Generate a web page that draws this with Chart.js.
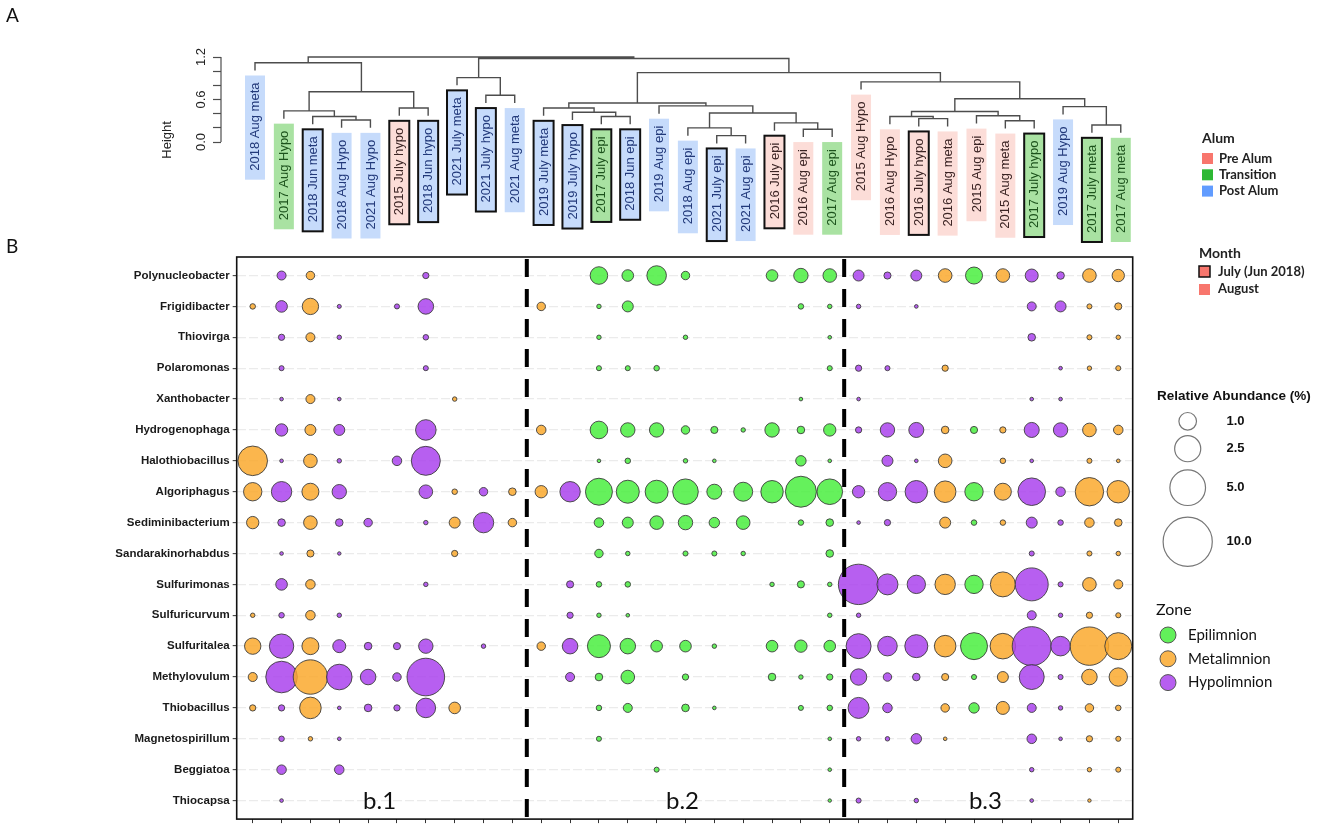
<!DOCTYPE html>
<html><head><meta charset="utf-8">
<script src="https://cdn.jsdelivr.net/npm/chart.js@4.4.1/dist/chart.umd.min.js"></script>
<style>
html,body{margin:0;padding:0;background:#fff;}
#wrap{position:relative;width:1325px;height:829px;overflow:hidden;background:#fff;}
#wrap canvas{position:absolute;left:0;top:0;}
</style></head><body>
<div id="wrap"><canvas id="dendro" width="1325" height="829"></canvas><canvas id="bubble" width="1325" height="829"></canvas></div>
<script>
// ---------- DATA ----------
const samples = ["2018 Aug meta","2017 Aug Hypo","2018 Jun meta","2018 Aug Hypo","2021 Aug Hypo","2015 July hypo","2018 Jun hypo","2021 July meta","2021 July hypo","2021 Aug meta","2019 July meta","2019 July hypo","2017 July epi","2018 Jun epi","2019 Aug epi","2018 Aug epi","2021 July epi","2021 Aug epi","2016 July epi","2016 Aug epi","2017 Aug epi","2015 Aug Hypo","2016 Aug Hypo","2016 July hypo","2016 Aug meta","2015 Aug epi","2015 Aug meta","2017 July hypo","2019 Aug Hypo","2017 July meta","2017 Aug meta"];
const sampleAlum = ["Post","Transition","Post","Post","Post","Pre","Post","Post","Post","Post","Post","Post","Transition","Post","Post","Post","Post","Post","Pre","Pre","Transition","Pre","Pre","Pre","Pre","Pre","Pre","Transition","Post","Transition","Transition"];
const sampleMonth = ["August","August","July","August","August","July","July","July","July","August","July","July","July","July","August","August","July","August","July","August","August","August","August","July","August","August","August","July","August","July","August"];
const sampleZone = ["Metalimnion","Hypolimnion","Metalimnion","Hypolimnion","Hypolimnion","Hypolimnion","Hypolimnion","Metalimnion","Hypolimnion","Metalimnion","Metalimnion","Hypolimnion","Epilimnion","Epilimnion","Epilimnion","Epilimnion","Epilimnion","Epilimnion","Epilimnion","Epilimnion","Epilimnion","Hypolimnion","Hypolimnion","Hypolimnion","Metalimnion","Epilimnion","Metalimnion","Hypolimnion","Hypolimnion","Metalimnion","Metalimnion"];

// hierarchical clustering (R hclust style: negative = leaf position, positive = earlier merge)
const mergeLeft   = [-4,-3,-2,-6,3,-1,-9,-8,-13,-12,-11,-17,-16,-20,-19,13,-15,11,-24,-23,-27,-26,20,-30,-29,23,-22,18,8,6];
const mergeRight  = [-5,1,2,-7,4,5,-10,7,-14,9,10,-18,12,-21,14,15,16,17,-25,19,-28,21,22,-31,24,25,26,27,28,29];
const mergeHeight = [0.31,0.36,0.44,0.48,0.71,1.12,0.66,0.91,0.36,0.42,0.48,0.09,0.20,0.18,0.27,0.41,0.51,0.55,0.33,0.36,0.30,0.37,0.43,0.24,0.50,0.61,0.85,0.98,1.18,1.20];
const leafHang = 0.11;
const heightTicks = [0,0.2,0.4,0.6,0.8,1.0,1.2];
const heightLabels = [0,0.6,1.2];

const genera = ["Polynucleobacter","Frigidibacter","Thiovirga","Polaromonas","Xanthobacter","Hydrogenophaga","Halothiobacillus","Algoriphagus","Sediminibacterium","Sandarakinorhabdus","Sulfurimonas","Sulfuricurvum","Sulfuritalea","Methylovulum","Thiobacillus","Magnetospirillum","Beggiatoa","Thiocapsa"];
// relative abundance (%) per sample, in dendrogram order
const polynucleobacter   = [0,0.17,0.14,0,0,0,0.05,0,0,0, 0,0,1.00,0.35,1.29,0.14,0,0,0.35,0.61,0.53, 0.30,0.08,0.30,0.53,0.92,0.53,0.47,0.10,0.53,0.41];
const frigidibacter      = [0.03,0.35,0.84,0.005,0,0.02,0.74,0,0,0, 0.14,0,0.01,0.30,0,0,0,0,0,0.03,0.01, 0.01,0,0.002,0,0,0,0.17,0.30,0.02,0.08];
const thiovirga          = [0,0.05,0.17,0.01,0,0,0.03,0,0,0, 0,0,0.01,0,0,0.01,0,0,0,0,0.002, 0,0,0,0,0,0,0.10,0,0.02,0.01];
const polaromonas        = [0,0.02,0,0,0,0,0.02,0,0,0, 0,0,0.02,0.02,0.03,0,0,0,0,0,0.02, 0.05,0.02,0,0.05,0,0,0,0.002,0.01,0.02];
const xanthobacter       = [0,0.002,0.17,0.002,0,0,0,0.01,0,0, 0,0,0,0,0,0,0,0,0,0.002,0, 0.002,0,0,0,0,0,0.002,0.002,0,0];
const hydrogenophaga     = [0,0.41,0.30,0.30,0,0,1.45,0,0,0, 0.20,0,1.00,0.61,0.61,0.14,0.08,0.01,0.61,0.10,0.41, 0.05,0.61,0.68,0.10,0.08,0.05,0.68,0.61,0.53,0.20];
const halothiobacillus   = [3.32,0.002,0.53,0.01,0,0.20,3.17,0,0,0, 0,0,0.002,0.03,0,0.01,0.002,0,0,0.26,0.002, 0,0.30,0.002,0.53,0,0.03,0.002,0,0.02,0.002];
const algoriphagus       = [1.11,1.42,0.92,0.61,0,0,0.53,0.03,0.14,0.10, 0.41,1.42,2.70,1.88,1.88,2.40,0.68,1.20,1.77,3.68,2.40, 0.41,1.11,1.77,1.62,1.11,0.92,2.84,0.20,3.03,1.77];
const sediminibacterium  = [0.41,0.10,0.53,0.10,0.14,0,0.01,0.30,1.42,0.14, 0,0,0.20,0.30,0.53,0.61,0.26,0.53,0,0.03,0.10, 0.002,0.05,0,0.30,0.03,0.03,0.30,0.03,0.20,0.10];
const sandarakinorhabdus = [0,0.002,0.08,0.001,0,0,0,0.05,0,0, 0,0,0.14,0.01,0,0.02,0.02,0.01,0,0,0.10, 0,0,0,0,0,0,0.02,0,0.02,0.01];
const sulfurimonas       = [0,0.35,0.20,0,0,0,0.01,0,0,0, 0,0.08,0.03,0.03,0,0,0,0,0.01,0.08,0.01, 6.56,1.52,1.11,1.42,1.11,2.27,4.22,0.02,0.53,0.17];
const sulfuricurvum      = [0.01,0.03,0.20,0.01,0,0,0,0,0,0, 0,0.05,0.01,0.002,0,0,0,0,0,0,0.01, 0.01,0,0,0,0,0,0.17,0.01,0.05,0.02];
const sulfuritalea       = [0.84,2.15,0.92,0.47,0.10,0.08,0.61,0,0.01,0, 0.14,0.74,1.88,0.74,0.35,0.35,0.01,0,0.35,0.41,0.35, 2.27,1.29,1.88,1.62,2.70,2.40,6.08,1.29,5.88,2.70];
const methylovulum       = [0.17,3.84,4.63,2.40,0.74,0.14,5.62,0,0,0, 0,0.17,0.10,0.53,0,0.05,0,0,0.10,0.01,0.05, 0.84,0.14,0.10,0.08,0.02,0.30,2.27,0.02,0.74,1.11];
const thiobacillus       = [0.05,0.05,1.62,0.002,0.10,0.05,1.29,0.35,0,0, 0,0,0.03,0.17,0,0.10,0.002,0,0,0.02,0.03, 1.52,0.20,0,0.14,0.26,0.47,0.17,0.01,0.14,0.03];
const magnetospirillum   = [0,0.03,0.01,0.002,0,0,0,0,0,0, 0,0,0.02,0,0,0,0,0,0,0,0.002, 0.01,0.01,0.26,0.002,0,0,0.20,0.002,0.05,0.02];
const beggiatoa          = [0,0.20,0,0.20,0,0,0,0,0,0, 0,0,0,0,0.02,0,0,0,0,0,0.002, 0,0,0,0,0,0,0.01,0,0.01,0.02];
const thiocapsa          = [0,0.002,0,0,0,0,0,0,0,0, 0,0,0,0,0,0,0,0,0,0,0.001, 0.02,0,0.01,0,0,0,0.002,0,0.001,0];
const abundanceRows = [polynucleobacter,frigidibacter,thiovirga,polaromonas,xanthobacter,hydrogenophaga,halothiobacillus,algoriphagus,sediminibacterium,sandarakinorhabdus,sulfurimonas,sulfuricurvum,sulfuritalea,methylovulum,thiobacillus,magnetospirillum,beggiatoa,thiocapsa];

const groupNames  = ["b.1","b.2","b.3"];
const groupFirst  = [0,10,21];
const groupLast   = [9,20,30];
const sizeLegendValues = [1.0,2.5,5.0,10.0];
const alumLevels = ["Pre","Transition","Post"];
const alumNames  = ["Pre Alum","Transition","Post Alum"];
const zoneLevels = ["Epilimnion","Metalimnion","Hypolimnion"];

// ---------- STYLE ----------
const zoneFill  = {Epilimnion:'rgba(74,238,63,0.85)', Metalimnion:'rgba(250,169,46,0.85)', Hypolimnion:'rgba(170,67,237,0.85)'};
const zoneSolid = {Epilimnion:'#62f05a', Metalimnion:'#fbb64d', Hypolimnion:'#b75ff0'};
const alumSwatch = {Pre:'#f8766d', Transition:'#2db834', Post:'#619cff'};
const alumBox = {Pre:'#fcddd8', Transition:'#a9e2a2', Post:'#c6dbfb'};
const alumText = {Pre:'#3b2424', Transition:'#1c521c', Post:'#22397a'};
function sizeOf(v){ return 1.5 + 7.3*Math.sqrt(v); }
const SANS = '"Liberation Sans", Arial, sans-serif';
const LATO = 'Lato, "Open Sans", sans-serif';

// ---------- DENDROGRAM ----------
const nodeX = [], leafEndH = new Array(samples.length).fill(0);
mergeLeft.forEach((a,i)=>{
  [a, mergeRight[i]].forEach(c=>{ if(c<0) leafEndH[-c-1] = mergeHeight[i]-leafHang; });
});
function cx(c){ return c<0 ? (-c-1) : nodeX[c-1]; }
function cy(c){ return c<0 ? leafEndH[-c-1] : mergeHeight[c-1]; }
const dendroPoints = [];
mergeLeft.forEach((a,i)=>{
  const b = mergeRight[i], h = mergeHeight[i];
  nodeX[i] = (cx(a)+cx(b))/2;
  dendroPoints.push({x:cx(a),y:cy(a)},{x:cx(a),y:h},{x:cx(b),y:h},{x:cx(b),y:cy(b)},{x:cx(b),y:null});
});

const dendroPlugin = {
  id:'dendroExtras',
  afterDatasetsDraw(chart){
    const ctx = chart.ctx, xs = chart.scales.x, ys = chart.scales.y;
    ctx.save();
    ctx.strokeStyle='#4d4d4d'; ctx.lineWidth=1.2;
    ctx.beginPath(); ctx.moveTo(ys.right, ys.getPixelForValue(heightTicks[0])); ctx.lineTo(ys.right, ys.getPixelForValue(heightTicks[heightTicks.length-1])); ctx.stroke();
    ctx.font = '13px '+SANS;
    samples.forEach((s,k)=>{
      const px = xs.getPixelForValue(k);
      const le = ys.getPixelForValue(leafEndH[k]);
      const tw = ctx.measureText(s).width;
      const top = le+5, tEnd = top+7, bot = tEnd+tw+9;
      const al = sampleAlum[k];
      ctx.fillStyle = alumBox[al];
      ctx.fillRect(px-10, top, 20, bot-top);
      if(sampleMonth[k]==='July'){ ctx.strokeStyle='#111'; ctx.lineWidth=2; ctx.strokeRect(px-10, top, 20, bot-top); }
      ctx.save(); ctx.translate(px+0.5, tEnd+tw); ctx.rotate(-Math.PI/2);
      ctx.fillStyle = alumText[al]; ctx.textAlign='left'; ctx.textBaseline='middle';
      ctx.fillText(s,0,0); ctx.restore();
    });
    ctx.fillStyle='#111'; ctx.font='19px '+LATO; ctx.textAlign='left'; ctx.textBaseline='middle';
    ctx.fillText('A',6,16); ctx.fillText('B',6,247);
    ctx.restore();
  }
};

new Chart(document.getElementById('dendro'),{
  type:'line',
  data:{datasets:[{data:dendroPoints, borderColor:'#4d4d4d', borderWidth:1.4, pointRadius:0, spanGaps:false, tension:0, fill:false, clip:false}]},
  options:{
    responsive:false, animation:false, devicePixelRatio:1, events:[],
    layout:{autoPadding:false, padding:{left:160, right:189.8, top:53.5, bottom:602.7}},
    plugins:{legend:{display:false}, tooltip:{enabled:false}},
    scales:{
      x:{type:'linear', min:-1.178, max:30.5, display:false},
      y:{type:'linear', min:-1.19, max:1.25,
        afterFit:s=>{s.width=61;},
        afterBuildTicks:s=>{s.ticks=heightTicks.map(v=>({value:v}));},
        border:{display:false},
        grid:{drawOnChartArea:false, drawTicks:true, tickLength:8, tickColor:'#4d4d4d', tickWidth:1.2},
        ticks:{autoSkip:false, minRotation:90, maxRotation:90, crossAlign:'center', padding:3, color:'#222', font:{family:SANS, size:13},
          callback:v=> heightLabels.some(t=>Math.abs(t-v)<1e-6) ? Number(v).toFixed(1) : ''},
        title:{display:true, text:'Height', color:'#222', font:{family:SANS, size:13}, padding:{top:0,bottom:0}}
      }
    }
  },
  plugins:[dendroPlugin]
});

// ---------- BUBBLE PLOT ----------
const bubblePoints = [];
samples.forEach((s,c)=>{
  abundanceRows.forEach((row,r)=>{
    const v=row[c];
    if(v>0) bubblePoints.push({x:c, y:r, r:sizeOf(v), zone:sampleZone[c]});
  });
});

const bubblePlugin = {
  id:'bubbleExtras',
  afterDatasetsDraw(chart){
    const ctx=chart.ctx, a=chart.chartArea, xs=chart.scales.x;
    ctx.save();
    ctx.strokeStyle='#000'; ctx.lineWidth=4; ctx.setLineDash([18,12]);
    for(let g=1; g<groupFirst.length; g++){
      const px = xs.getPixelForValue((groupLast[g-1]+groupFirst[g])/2);
      ctx.beginPath(); ctx.moveTo(px,a.top+2); ctx.lineTo(px,a.bottom); ctx.stroke();
    }
    ctx.setLineDash([]);
    ctx.strokeStyle='#111'; ctx.lineWidth=1.6;
    ctx.strokeRect(a.left, a.top, a.right-a.left, a.bottom-a.top);
    ctx.fillStyle='#111'; ctx.font='24px '+LATO; ctx.textAlign='center'; ctx.textBaseline='middle';
    groupNames.forEach((n,g)=>{ ctx.fillText(n, xs.getPixelForValue((groupFirst[g]+groupLast[g])/2)-3, 801); });
    ctx.restore();
  },
  afterDraw(chart){
    const ctx=chart.ctx;
    ctx.save();
    ctx.textAlign='left'; ctx.textBaseline='middle';
    ctx.fillStyle='#222'; ctx.font='bold 14px '+LATO; ctx.fillText('Alum',1202,138);
    alumLevels.forEach((l,i)=>{
      const y=158.5+i*16.3;
      ctx.fillStyle=alumSwatch[l]; ctx.fillRect(1202,y-5.5,11,11);
      ctx.fillStyle='#222'; ctx.font='bold 13px '+LATO; ctx.fillText(alumNames[i],1219,y);
    });
    ctx.fillStyle='#222'; ctx.font='bold 14px '+LATO; ctx.fillText('Month',1199,253);
    ctx.fillStyle=alumSwatch.Pre; ctx.fillRect(1199,266,11,11);
    ctx.strokeStyle='#111'; ctx.lineWidth=1.5; ctx.strokeRect(1199,266,11,11);
    ctx.fillRect(1199,284,11,11);
    ctx.fillStyle='#222'; ctx.font='bold 13px '+LATO;
    ctx.fillText('July (Jun 2018)',1218,271.5); ctx.fillText('August',1218,289);
    ctx.fillStyle='#111'; ctx.font='bold 13.5px '+SANS; ctx.fillText('Relative Abundance (%)',1157,396);
    const sizeY=[421.3,448.7,487.7,541.7];
    sizeLegendValues.forEach((v,i)=>{
      ctx.beginPath(); ctx.arc(1187.7,sizeY[i],sizeOf(v),0,Math.PI*2);
      ctx.strokeStyle='#777'; ctx.lineWidth=1.2; ctx.stroke();
      ctx.fillStyle='#111'; ctx.font='bold 13px '+SANS; ctx.fillText(v.toFixed(1),1226.5,sizeY[i]);
    });
    ctx.fillStyle='#111'; ctx.font='16px '+LATO; ctx.fillText('Zone',1156,610);
    zoneLevels.forEach((z,i)=>{
      const y=635+i*23.8;
      ctx.beginPath(); ctx.arc(1168,y,8,0,Math.PI*2);
      ctx.fillStyle=zoneSolid[z]; ctx.fill(); ctx.strokeStyle='#555'; ctx.lineWidth=1; ctx.stroke();
      ctx.fillStyle='#111'; ctx.font='15px '+LATO; ctx.fillText(z,1188,y);
    });
    ctx.restore();
  }
};

new Chart(document.getElementById('bubble'),{
  type:'bubble',
  data:{datasets:[{data:bubblePoints,
    backgroundColor:ctx=> ctx.raw ? zoneFill[ctx.raw.zone] : '#999',
    borderColor:'#3d3d3d', borderWidth:0.9, clip:false}]},
  options:{
    responsive:false, animation:false, devicePixelRatio:1, events:[],
    layout:{autoPadding:false, padding:{left:0, right:192.3, top:257, bottom:0}},
    plugins:{legend:{display:false}, tooltip:{enabled:false}},
    scales:{
      x:{type:'linear', min:-0.555, max:30.5,
        afterFit:s=>{s.height=8;},
        afterBuildTicks:s=>{s.ticks=samples.map((n,i)=>({value:i}));},
        border:{display:false},
        grid:{drawOnChartArea:false, drawTicks:true, tickLength:4, tickColor:'#333', tickWidth:1},
        ticks:{display:false, autoSkip:false}},
      y:{type:'linear', reverse:true, min:-0.6, max:17.6,
        afterFit:s=>{s.width=236.7;},
        afterBuildTicks:s=>{s.ticks=genera.map((g,i)=>({value:i}));},
        border:{display:false, dash:[9,3]},
        grid:{color:'#ebebeb', lineWidth:1.3, drawTicks:true, tickLength:4, tickColor:'#333', tickWidth:1},
        ticks:{autoSkip:false, padding:3, color:'#1a1a1a', font:{family:SANS, size:11.5, weight:'bold'},
          callback:v=>genera[v]}}
    }
  },
  plugins:[bubblePlugin]
});
</script></body></html>
